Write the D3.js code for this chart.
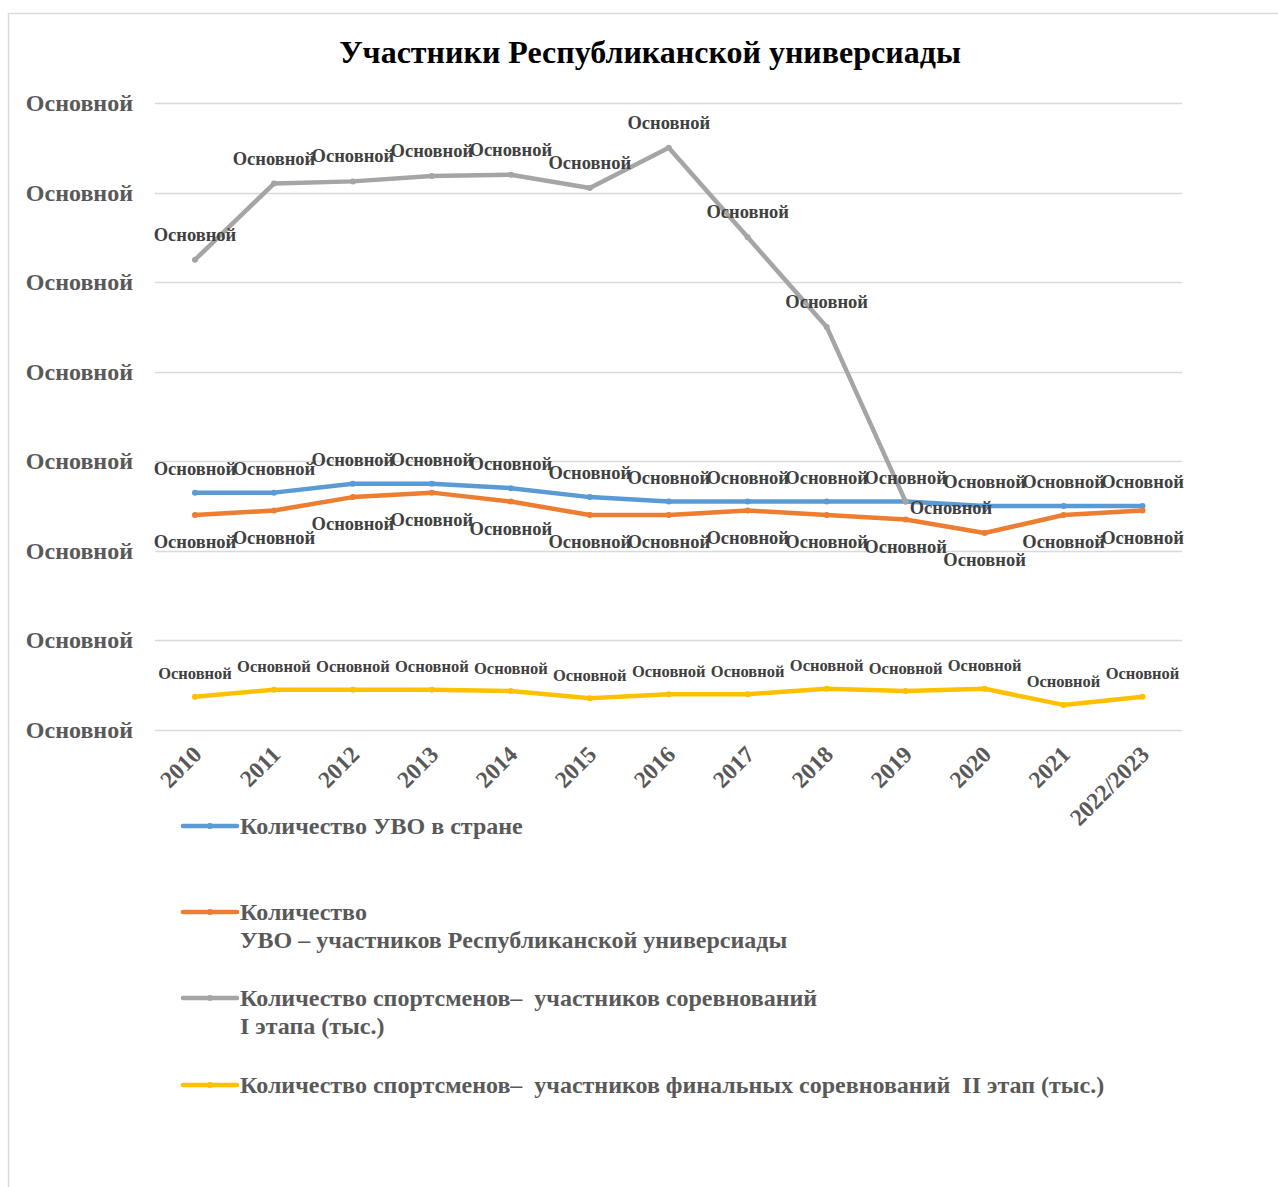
<!DOCTYPE html>
<html lang="ru">
<head>
<meta charset="utf-8">
<script src="https://cdn.jsdelivr.net/npm/d3@7"></script>
<style>
  html, body { margin: 0; padding: 0; background: #fff; }
  svg { display: block; font-family: "Liberation Serif", "Times New Roman", serif; }
</style>
</head>
<body>
<svg id="chart" width="1278" height="1187"></svg>
<script>
// Годы (категории оси X)
const categories = ["2010", "2011", "2012", "2013", "2014", "2015", "2016",
                    "2017", "2018", "2019", "2020", "2021", "2022/2023"];

// Количество УВО в стране
const uvoTotal = [53, 53, 55, 55, 54, 52, 51, 51, 51, 51, 50, 50, 50];
// Количество УВО – участников Республиканской универсиады
const uvoParticipants = [48, 49, 52, 53, 51, 48, 48, 49, 48, 47, 44, 48, 49];
// Количество спортсменов – участников соревнований I этапа (тыс.)
const stage1Athletes = [105, 122, 122.5, 123.7, 124, 121, 130, 110, 90, 51, null, null, null];
// Количество спортсменов – участников финальных соревнований II этапа (тыс.)
const stage2Athletes = [7.4, 9, 9, 9, 8.7, 7.1, 8, 8, 9.2, 8.7, 9.2, 5.6, 7.4];

// Подписи делений оси Y (формат чисел в файле сломан — везде одно слово)
const yTicks = [0, 20, 40, 60, 80, 100, 120, 140];
const yTickLabel = "Основной";
const dataLabel = "Основной";

const seriesNames = [
  ["Количество УВО в стране"],
  ["Количество", "УВО – участников Республиканской универсиады"],
  ["Количество спортсменов–  участников соревнований", "I этапа (тыс.)"],
  ["Количество спортсменов–  участников финальных соревнований  II этап (тыс.)"]
];

const title = "Участники Республиканской универсиады";

// ---- оформление ----
const colors = ["#5b9bd5", "#ed7d31", "#a5a5a5", "#ffc000"];
const series = [uvoTotal, uvoParticipants, stage1Athletes, stage2Athletes];

const svg = d3.select("#chart");

// рамка области диаграммы
svg.append("rect")
  .attr("x", 8.5).attr("y", 13.5)
  .attr("width", 1400).attr("height", 1300)
  .attr("fill", "none").attr("stroke", "#d9d9d9").attr("stroke-width", 1.5);

svg.append("text")
  .attr("x", 650).attr("y", 63)
  .attr("text-anchor", "middle")
  .attr("font-size", 32).attr("font-weight", "bold").attr("fill", "#000")
  .text(title);

const x = d3.scaleBand().domain(categories).range([155.5, 1182]);
const cx = c => x(c) + x.bandwidth() / 2;
const y = d3.scaleLinear().domain([0, 140]).range([730, 103]);

// сетка
svg.append("g").selectAll("line").data(yTicks).join("line")
  .attr("x1", 155).attr("x2", 1182)
  .attr("y1", d => Math.round(y(d)) + 0.5).attr("y2", d => Math.round(y(d)) + 0.5)
  .attr("stroke", "#d9d9d9").attr("stroke-width", 1.5);

// подписи оси Y
svg.append("g").selectAll("text").data(yTicks).join("text")
  .attr("x", 133).attr("y", d => y(d))
  .attr("text-anchor", "end").attr("dominant-baseline", "central")
  .attr("font-size", 24).attr("font-weight", "bold").attr("fill", "#595959")
  .text(yTickLabel);

// подписи оси X
svg.append("g").selectAll("text").data(categories).join("text")
  .attr("transform", d => `translate(${cx(d) + 8},${756}) rotate(-45)`)
  .attr("text-anchor", "end")
  .attr("font-size", 23.5).attr("font-weight", "bold").attr("fill", "#595959")
  .text(d => d);

// линии рядов
const line = d3.line()
  .defined(d => d.v != null)
  .x(d => cx(d.c)).y(d => y(d.v));

series.forEach((vals, i) => {
  const pts = vals.map((v, j) => ({ c: categories[j], v }));
  const g = svg.append("g");
  g.append("path").datum(pts)
    .attr("d", line)
    .attr("fill", "none").attr("stroke", colors[i])
    .attr("stroke-width", 4.5).attr("stroke-linejoin", "round").attr("stroke-linecap", "round");
  g.selectAll("circle").data(pts.filter(p => p.v != null)).join("circle")
    .attr("cx", p => cx(p.c)).attr("cy", p => y(p.v)).attr("r", 3)
    .attr("fill", colors[i]);
});

// подписи данных
function labelPos(si, p, j, n) {
  const px = cx(p.c), py = y(p.v);
  if (si === 0) return [px, py - 24, "middle"];
  if (si === 1) return [px, py + 27, "middle"];
  if (si === 2) {
    // последняя точка ряда подписана справа
    if (j === n - 1) return [px + 4, py + 6, "start"];
    return [px, py - 25, "middle"];
  }
  return [px, py - 23, "middle"];
}

series.forEach((vals, si) => {
  const pts = vals.map((v, j) => ({ c: categories[j], v })).filter(p => p.v != null);
  svg.append("g").selectAll("text").data(pts).join("text")
    .each(function (p, j) {
      const [lx, ly, anchor] = labelPos(si, p, j, pts.length);
      d3.select(this).attr("x", lx).attr("y", ly).attr("text-anchor", anchor);
    })
    .attr("dominant-baseline", "central")
    .attr("font-size", si === 3 ? 16.5 : 18.5).attr("font-weight", "bold").attr("fill", "#404040")
    .text(dataLabel);
});

// легенда
const legendRows = [826, 912, 998, 1085];
const lineH = 28;
seriesNames.forEach((lines, i) => {
  const ly = legendRows[i];
  const g = svg.append("g");
  g.append("line")
    .attr("x1", 183).attr("x2", 237).attr("y1", ly).attr("y2", ly)
    .attr("stroke", colors[i]).attr("stroke-width", 4.5).attr("stroke-linecap", "round");
  g.append("circle").attr("cx", 210).attr("cy", ly).attr("r", 3).attr("fill", colors[i]);
  const t = g.append("text")
    .attr("x", 240).attr("y", ly)
    .attr("dominant-baseline", "central")
    .attr("font-size", 24).attr("font-weight", "bold").attr("fill", "#595959");
  lines.forEach((s, k) => {
    t.append("tspan").attr("x", 240).attr("y", ly + k * lineH)
      .attr("dominant-baseline", "central")
      .style("white-space", "pre")
      .text(s);
  });
});
</script>
</body>
</html>
